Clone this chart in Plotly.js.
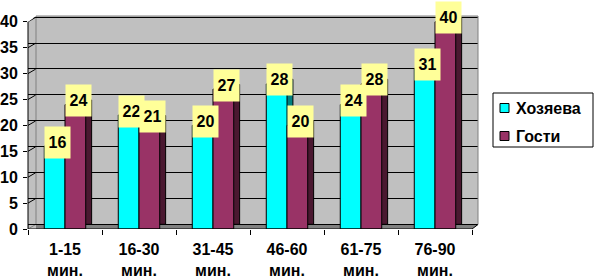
<!DOCTYPE html>
<html><head><meta charset="utf-8">
<script src="https://cdn.plot.ly/plotly-3.0.1.min.js"></script>
<style>html,body{margin:0;padding:0;background:#fff}#chart{width:596px;height:278px}</style>
</head><body><div id="chart"></div>
<script>
const categories = ['1-15 мин.', '16-30 мин.', '31-45 мин.', '46-60 мин.', '61-75 мин.', '76-90 мин.'];
const tickLabels = ['1-15<br>мин.', '16-30<br>мин.', '31-45<br>мин.', '46-60<br>мин.', '61-75<br>мин.', '76-90<br>мин.'];
const hosts = [16, 22, 20, 28, 24, 31];
const guests = [24, 21, 27, 20, 28, 40];
const yTicks = [0, 5, 10, 15, 20, 25, 30, 35, 40];
const seriesNames = ['Хозяева', 'Гости'];

const FONT = 'Liberation Sans, Arial, sans-serif';
const L = 28, R = 478, T = 16, B = 229;
const W = R - L, H = B - T;
const px = x => (x - L) / W;
const py = y => (B - y) / H;

const BW = 0.28, DX = 0.08, DY = 0.9;
const idx = categories.map((c, i) => i);

const traces = [
  {type: 'bar', x: idx, y: hosts, base: DY, offset: -BW + DX, width: BW,
   marker: {color: '#008080', line: {color: '#000', width: 1}}, hoverinfo: 'skip', showlegend: false},
  {type: 'bar', x: idx, y: hosts, name: seriesNames[0], offset: -BW, width: BW,
   marker: {color: '#00FFFF', line: {color: '#000', width: 1}}, showlegend: false},
  {type: 'bar', x: idx, y: guests, base: DY, offset: DX, width: BW,
   marker: {color: '#4A1830', line: {color: '#000', width: 1}}, hoverinfo: 'skip', showlegend: false},
  {type: 'bar', x: idx, y: guests, name: seriesNames[1], offset: 0, width: BW,
   marker: {color: '#993366', line: {color: '#000', width: 1}}, showlegend: false},
  {type: 'scatter', x: [0], y: [0], yaxis: 'y2', mode: 'markers', marker: {opacity: 0}, hoverinfo: 'skip', showlegend: false},
  {type: 'scatter', x: [0], y: [0], xaxis: 'x2', mode: 'markers', marker: {opacity: 0}, hoverinfo: 'skip', showlegend: false}
];

const annotations = [];
hosts.forEach((v, i) => annotations.push({x: i, y: v, xref: 'x', yref: 'y', text: String(v), showarrow: false,
  xshift: -8, yshift: 4, bgcolor: '#FFFF99', width: 25, height: 31, borderpad: 0,
  font: {family: FONT, size: 16, color: '#000', weight: 'bold'}}));
guests.forEach((v, i) => annotations.push({x: i, y: v, xref: 'x', yref: 'y', text: String(v), showarrow: false,
  xshift: 13, yshift: 4, bgcolor: '#FFFF99', width: 25, height: 31, borderpad: 0,
  font: {family: FONT, size: 16, color: '#000', weight: 'bold'}}));
// legend texts
annotations.push({xref: 'paper', yref: 'paper', x: px(514), y: py(108), xanchor: 'left', yanchor: 'middle',
  text: seriesNames[0], showarrow: false, font: {family: FONT, size: 16, color: '#000', weight: 'bold'}});
annotations.push({xref: 'paper', yref: 'paper', x: px(514), y: py(136), xanchor: 'left', yanchor: 'middle',
  text: seriesNames[1], showarrow: false, font: {family: FONT, size: 16, color: '#000', weight: 'bold'}});

const shapes = [];
// floor
shapes.push({type: 'rect', xref: 'paper', yref: 'y2', x0: 0, x1: 1, y0: -DY, y1: 0, fillcolor: '#808080', line: {width: 0}, layer: 'between'});
// left side wall
shapes.push({type: 'rect', xref: 'paper', yref: 'paper', x0: 0.002, x1: px(36), y0: 0, y1: 1, fillcolor: '#C0C0C0', line: {width: 0}, layer: 'between'});
yTicks.forEach(v => shapes.push({type: 'line', xref: 'paper', yref: 'y', x0: 0, x1: px(36), y0: v, y1: v + DY,
  line: {color: v === 0 ? '#808080' : '#000', width: 1}, layer: 'between'}));
// white corners
shapes.push({type: 'path', xref: 'paper', yref: 'paper', path: `M 0 1 L ${px(36)} 1 L 0 ${py(22)} Z`, fillcolor: '#fff', line: {width: 0}, layer: 'above'});
shapes.push({type: 'path', xref: 'paper', yref: 'paper', path: `M ${px(472)} 0 L 1 0 L 1 ${py(224.5)} Z`, fillcolor: '#fff', line: {width: 0}, layer: 'above'});
// back wall edges
shapes.push({type: 'line', xref: 'paper', yref: 'paper', x0: px(36), x1: px(36), y0: py(224.5), y1: 1, line: {color: '#808080', width: 1}, layer: 'between'});
shapes.push({type: 'line', xref: 'paper', yref: 'paper', x0: px(36), x1: 1, y0: 1, y1: 1, line: {color: '#808080', width: 1}, layer: 'above'});
shapes.push({type: 'line', xref: 'paper', yref: 'paper', x0: 1, x1: 1, y0: py(224.5), y1: 1, line: {color: '#808080', width: 1}, layer: 'above'});
shapes.push({type: 'line', xref: 'paper', yref: 'paper', x0: px(472), x1: 1, y0: 0, y1: py(224.5), line: {color: '#000', width: 1}, layer: 'above'});
// front axes
shapes.push({type: 'line', xref: 'paper', yref: 'y', x0: 0, x1: 0, y0: 0, y1: 40, line: {color: '#000', width: 1}, layer: 'above'});
shapes.push({type: 'line', xref: 'x', yref: 'y', x0: -0.5, x1: 5.5, y0: 0, y1: 0, line: {color: '#000', width: 1}, layer: 'above'});
// legend box
shapes.push({type: 'rect', xref: 'paper', yref: 'paper', x0: px(493), x1: px(593), y0: py(147), y1: py(93), fillcolor: '#fff', line: {color: '#000', width: 1}});
shapes.push({type: 'rect', xref: 'paper', yref: 'paper', x0: px(500), x1: px(509), y0: py(112.5), y1: py(103.5), fillcolor: '#00FFFF', line: {color: '#000', width: 1}});
shapes.push({type: 'rect', xref: 'paper', yref: 'paper', x0: px(500), x1: px(509), y0: py(140.5), y1: py(131.5), fillcolor: '#993366', line: {color: '#000', width: 1}});

const layout = {
  width: 596, height: 278,
  margin: {l: L, r: 596 - R, t: T, b: 278 - B, pad: 0},
  paper_bgcolor: '#fff', plot_bgcolor: '#C0C0C0',
  barmode: 'overlay', showlegend: false,
  font: {family: FONT, size: 16, color: '#000'},
  xaxis: {type: 'linear', range: [-0.5, 5.5 + 6 / 74], tickmode: 'array',
    tickvals: idx, ticktext: tickLabels, showgrid: false, zeroline: false, showline: false,
    ticks: '', ticklabelstandoff: 9, tickfont: {family: FONT, size: 16, color: '#000', weight: 'bold'}},
  xaxis2: {overlaying: 'x', range: [-0.5, 5.5 + 6 / 74], tickmode: 'array', tickvals: [-0.5, 0.5, 1.5, 2.5, 3.5, 4.5, 5.5],
    ticktext: ['', '', '', '', '', '', ''], ticks: 'outside', ticklen: 5, tickcolor: '#000', showgrid: false, zeroline: false, showline: false, anchor: 'y', side: 'bottom'},
  yaxis: {range: [0, H / 5.18], tickmode: 'array', tickvals: yTicks, showgrid: false, zeroline: false, showline: false,
    ticks: 'outside', ticklen: 4, tickcolor: '#000', ticklabelstandoff: 2,
    tickfont: {family: FONT, size: 16, color: '#000', weight: 'bold'}},
  yaxis2: {overlaying: 'y', range: [-DY, H / 5.18 - DY], tickmode: 'array', tickvals: yTicks, showgrid: true,
    gridcolor: '#000', gridwidth: 1, zeroline: false, showline: false, showticklabels: false, ticks: ''},
  annotations: annotations, shapes: shapes
};

Plotly.newPlot('chart', traces, layout, {staticPlot: true});
</script></body></html>
